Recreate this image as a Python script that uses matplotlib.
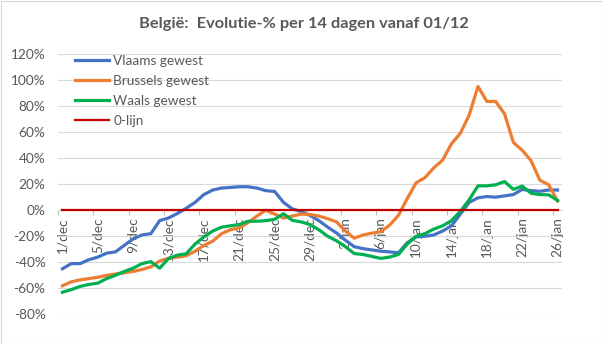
import numpy as np
import matplotlib
matplotlib.use('Agg')
import matplotlib.pyplot as plt
from matplotlib.patches import Rectangle

plt.rcParams['font.family'] = ['Lato', 'DejaVu Sans']

# dagen 1/dec t/m 26/jan
dagen = [f'{d}/dec' for d in range(1, 32)] + [f'{d}/jan' for d in range(1, 27)]

# evolutie in % over 14 dagen
vlaams = [-45, -41, -41, -38, -36, -33, -32, -27, -22, -19,
          -18, -8, -6, -2.5, 1.5, 6, 12, 15.5, 17, 17.5,
          18, 18, 17, 15, 14.4, 6, 1, -1, -4, -8,
          -13, -17.5, -23, -28, -29.5, -30.5, -31.5, -32, -32.7, -25,
          -20.5, -20, -19, -16, -12, -3, 6, 9.5, 10.5, 10,
          11, 12, 16, 15, 14.5, 15.5, 15.5]
brussels = [-58, -55, -53.5, -52.5, -51.5, -50, -49, -48, -47, -45.5,
            -43.5, -39, -37, -36, -35, -31.5, -27, -23.8, -18, -15,
            -13.5, -9.5, -4.5, 0, -3, -6, -4.5, -3, -3.3, -4.5,
            -6.5, -9, -16, -21.5, -19, -17.6, -16.5, -11.5, -4, 9,
            21, 25, 32.5, 38.5, 51, 59, 73, 95, 83.5, 83.5,
            74, 52, 46, 38, 23, 19.5, 7]
waals = [-63, -61, -58.5, -57, -56, -52.5, -50, -47, -44.5, -41,
         -39.5, -44.5, -37, -34.5, -33.5, -26, -20.5, -16, -13, -12,
         -11, -8.5, -8.5, -8, -7, -2.7, -7.8, -9, -11, -15,
         -20, -23.5, -28, -33.3, -34, -35.5, -37, -36, -34, -26,
         -20, -18, -14.5, -12, -8, -1, 8, 18.7, 18.7, 19.5,
         22, 16, 18.5, 13, 12, 11.8, 7.5]
nul_lijn = [0] * len(dagen)

y_ticks = [-80, -60, -40, -20, 0, 20, 40, 60, 80, 100, 120]

grijs = '#595959'
fs = 9.8

fig = plt.figure(figsize=(6.03, 3.44), dpi=100)
ax = fig.add_axes([58 / 603, 29.6 / 344, 504 / 603, 260.5 / 344])

x = np.arange(len(dagen))
ax.plot(x, vlaams, color='#4472C4', lw=2.3, label='Vlaams gewest', solid_joinstyle='round', zorder=3)
ax.plot(x, brussels, color='#ED7D31', lw=2.3, label='Brussels gewest', solid_joinstyle='round', zorder=3)
ax.plot(x, waals, color='#00B050', lw=2.3, label='Waals gewest', solid_joinstyle='round', zorder=3)
ax.plot(x, nul_lijn, color='#C00000', lw=1.6, label='0-lijn', zorder=4)

ax.set_xlim(-0.5, len(dagen) - 0.5)
ax.set_ylim(-80, 120)

# y-as
ax.set_yticks(y_ticks)
ax.set_yticklabels([f'{v}%' for v in y_ticks])
ax.yaxis.grid(True, color='#D9D9D9', lw=0.8)
ax.set_axisbelow(True)
ax.tick_params(axis='y', length=0, pad=9, labelsize=fs, labelcolor=grijs)

# x-as op de 0-lijn, streepjes tussen de categorieen
for s in ['top', 'right', 'left']:
    ax.spines[s].set_visible(False)
ax.spines['bottom'].set_position(('data', 0))
ax.spines['bottom'].set_color('#D9D9D9')
ax.spines['bottom'].set_zorder(1)
ax.set_xticks(np.arange(-0.5, len(dagen) - 1, 4))
ax.set_xticklabels([])
ax.tick_params(axis='x', which='major', length=3.5, color='#BFBFBF', direction='out')
ax.set_xticks(x[::4], minor=True)
ax.set_xticklabels(dagen[::4], minor=True, rotation=90)
ax.tick_params(axis='x', which='minor', length=0, pad=5, labelsize=fs, labelcolor=grijs)

leg = ax.legend(loc='upper left', bbox_to_anchor=(75 / 603, 1 - 55 / 344),
                bbox_transform=fig.transFigure, frameon=False, fontsize=fs,
                handlelength=2.5, handletextpad=0.32, labelspacing=0.58,
                borderpad=0, borderaxespad=0)
for t in leg.get_texts():
    t.set_color(grijs)

fig.text(304 / 603, 1 - 24 / 344, 'België:  Evolutie-% per 14 dagen vanaf 01/12',
         ha='center', va='center', fontsize=11.8, fontweight='bold', color=grijs)

fig.patches.append(Rectangle((0.5 / 603, 0.5 / 344), 602 / 603, 343 / 344,
                             transform=fig.transFigure, fill=False,
                             edgecolor='#D9D9D9', lw=0.8))

plt.savefig('out.png', dpi=100, facecolor='white')
